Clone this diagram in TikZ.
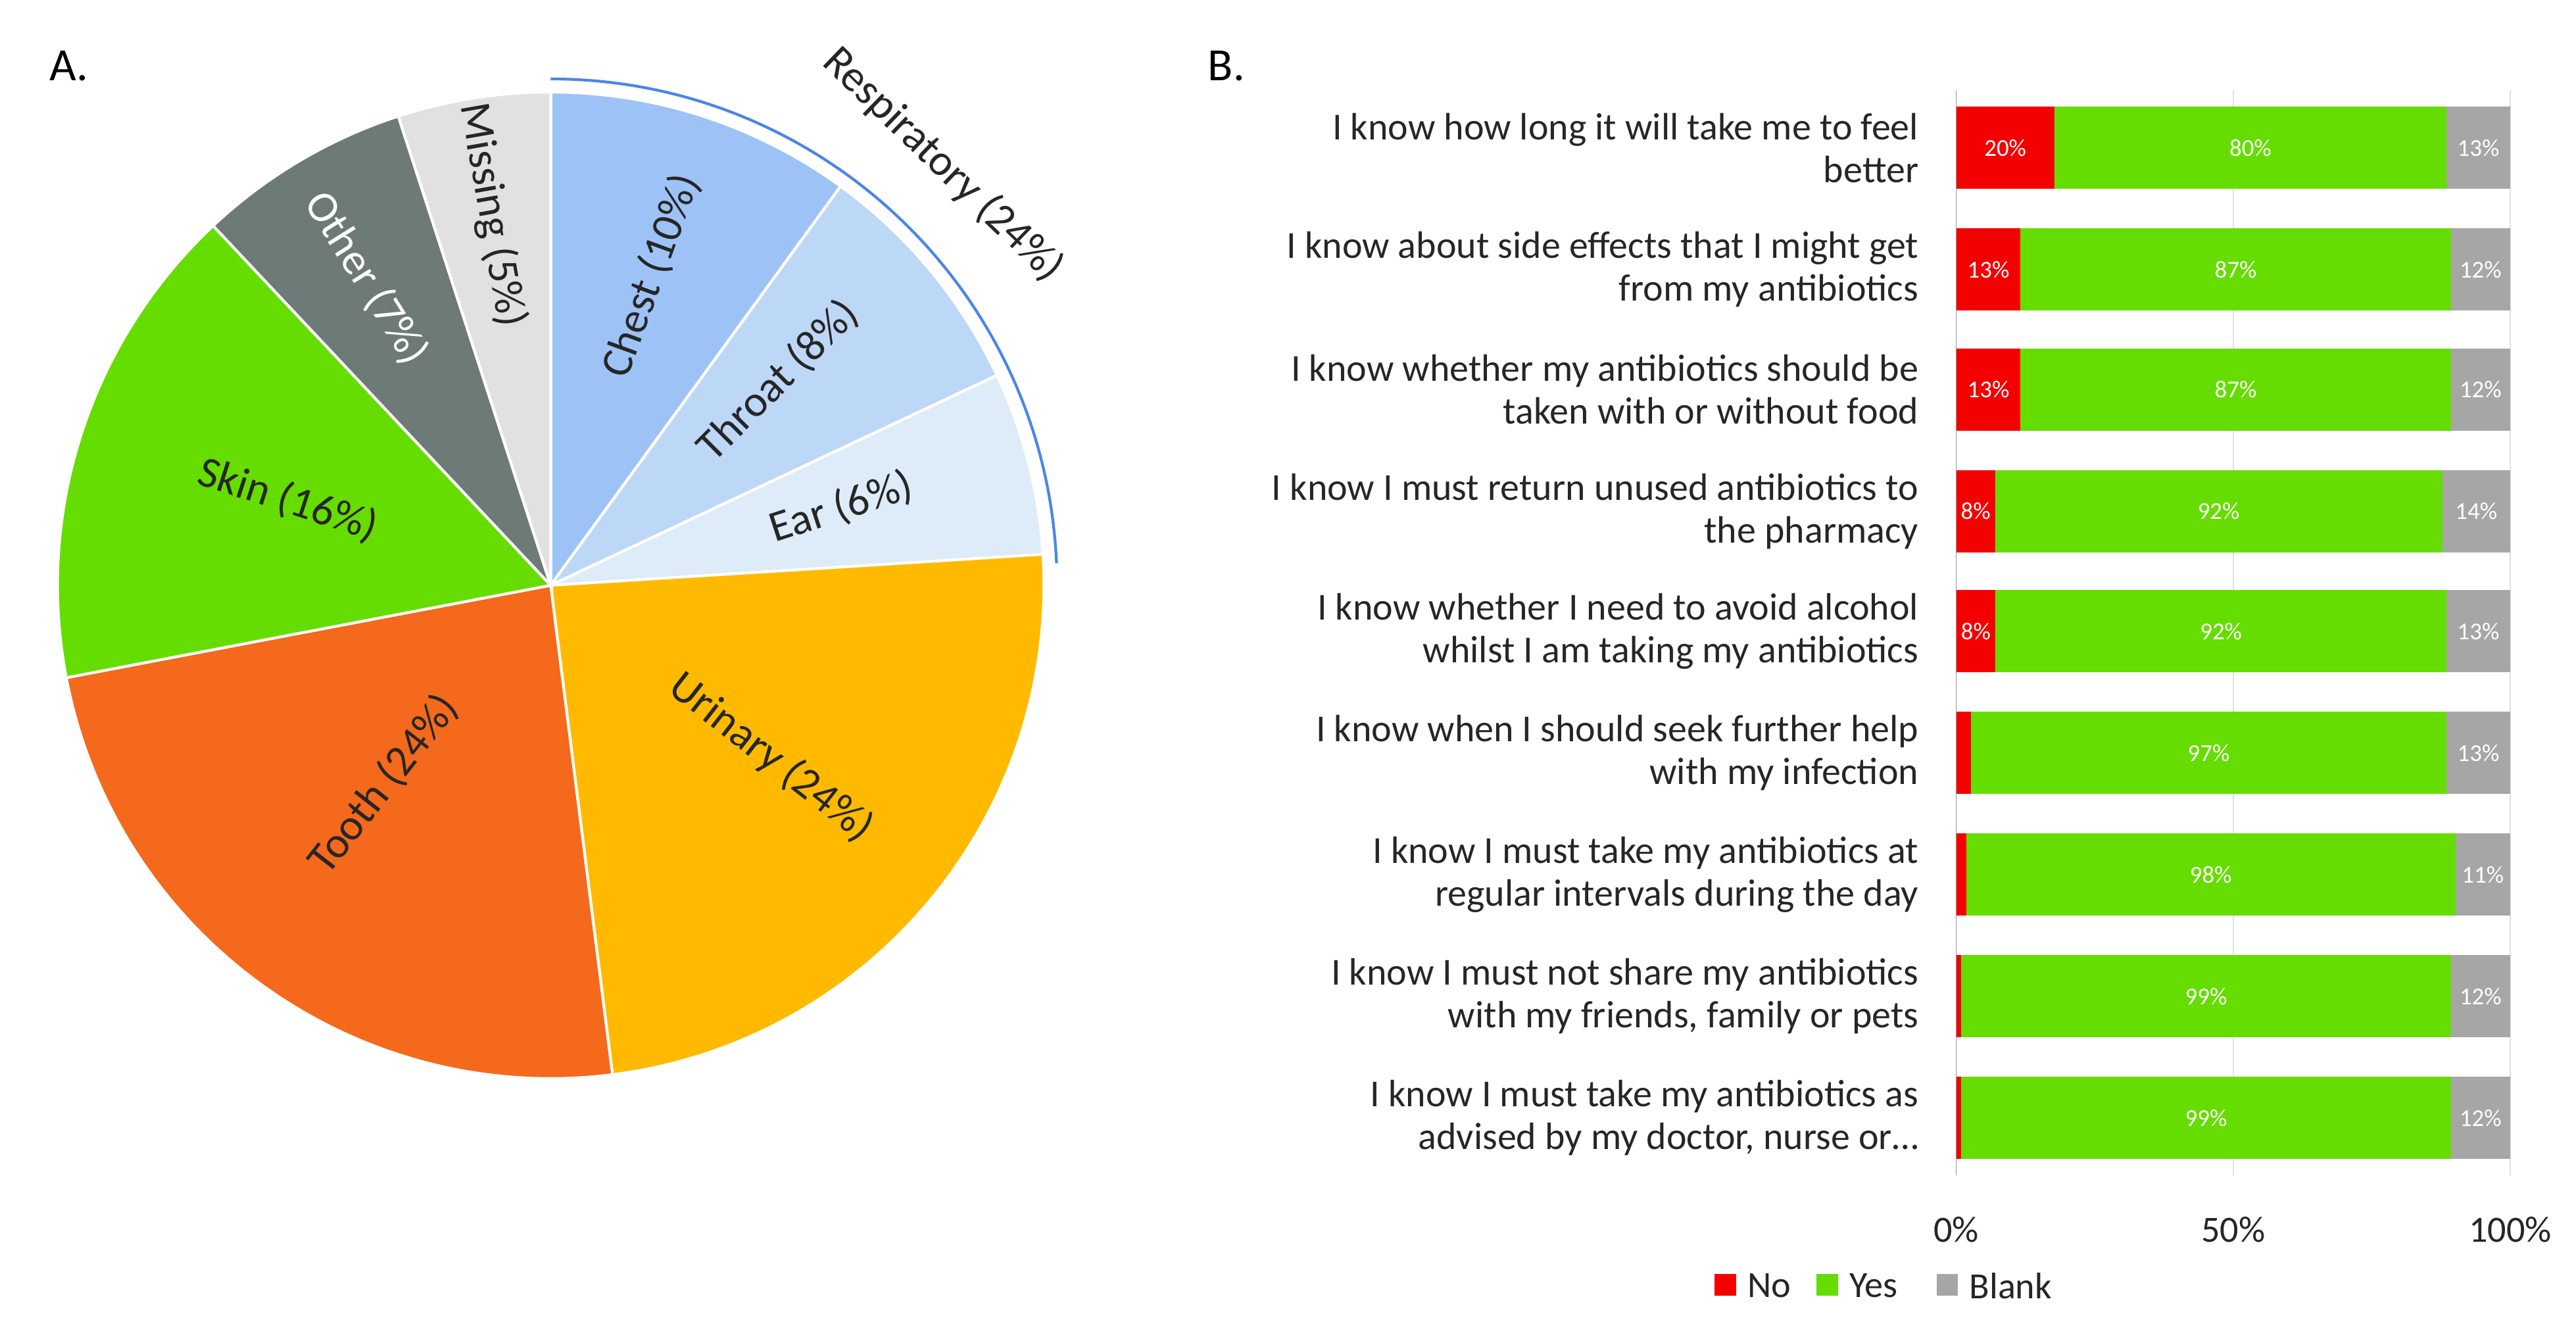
\documentclass[tikz,border=0pt]{standalone}
\usepackage{fontspec}
\setmainfont{Carlito}
\usetikzlibrary{calc}
\definecolor{chestc}{HTML}{9DC3F6}
\definecolor{throatc}{HTML}{BDD7F7}
\definecolor{earc}{HTML}{DEEBF8}
\definecolor{urinc}{HTML}{FFBA00}
\definecolor{toothc}{HTML}{F4691C}
\definecolor{skinc}{HTML}{66DD00}
\definecolor{otherc}{HTML}{6E7A77}
\definecolor{missc}{HTML}{E1E1E1}
\definecolor{noc}{HTML}{F40000}
\definecolor{blankc}{HTML}{A6A6A6}
\definecolor{respc}{HTML}{4A86E8}
\tikzset{
  slice/.style={draw=white, line width=1.2pt},
  plabel/.style={font=\fontsize{19}{19}\selectfont, text=black!85, inner sep=1pt},
  qlabel/.style={anchor=east, align=right, font=\fontsize{16.5}{18.5}\selectfont, text=black!85},
  vlabel/.style={font=\fontsize{10.5}{10.5}\selectfont, text=white},
  axlabel/.style={font=\fontsize{16}{16}\selectfont, text=black!85},
}
\begin{document}
\begin{tikzpicture}[x=0.025cm, y=0.025cm]
  \useasboundingbox (0,0) rectangle (1567,-804);
  % Panel letters
  \node[font=\fontsize{20}{20}\selectfont] (lA) at (42,-40) {A.};
  \node[font=\fontsize{20}{20}\selectfont] (lB) at (746,-40) {B.};
  % Pie
  \coordinate (O) at (335,-356);
  \foreach \a/\b/\c in {90/54/chestc, 54/25.2/throatc, 25.2/3.6/earc, 3.6/-82.8/urinc,
                        -82.8/-169.2/toothc, -169.2/-226.8/skinc, -226.8/-252/otherc, -252/-270/missc}
    \filldraw[slice, fill=\c] (O) -- ++(\a:300) arc[start angle=\a, end angle=\b, radius=300] -- cycle;
  % Pie labels
  \node[plabel, rotate=70] (chest) at ($(O)+(72:198)$) {Chest (10\%)};
  \node[plabel, rotate=45] (throat) at ($(O)+(42:186)$) {Throat (8\%)};
  \node[plabel, rotate=18] (ear) at ($(O)+(15:183)$) {Ear (6\%)};
  \node[plabel, rotate=-38] (urinary) at ($(O)+(-38:170)$) {Urinary (24\%)};
  \node[plabel, rotate=52] (tooth) at ($(O)+(-130:158)$) {Tooth (24\%)};
  \node[plabel, rotate=-18] (skin) at ($(O)+(162:168)$) {Skin (16\%)};
  \node[plabel, text=white, rotate=-58] (other) at ($(O)+(121:218)$) {Other (7\%)};
  \node[plabel, rotate=-80] (missing) at ($(O)+(99:228)$) {Missing (5\%)};
  % Respiratory bracket
  \draw[respc, line width=1.2pt] ($(O)+(90:308)$) arc[start angle=90, end angle=2.5, radius=308];
  \node[plabel, rotate=-44] (resp) at ($(O)+(47:350)$) {Respiratory (24\%)};
  % Bar chart grid
  \draw[black!12] (1358.5,-55) -- (1358.5,-715);
  \draw[black!12] (1527,-55) -- (1527,-715);
  \draw[black!40] (1190,-55) -- (1190,-715);
  \foreach \y/\n/\g/\b/\nl/\gl/\bl in {
      90/20/80/13/20\%/80\%/13\%, 164/13/87/12/13\%/87\%/12\%, 237/13/87/12/13\%/87\%/12\%,
      311/8/92/14/8\%/92\%/14\%, 384/8/92/13/8\%/92\%/13\%, 458/3/97/13//97\%/13\%,
      532/2/98/11//98\%/11\%, 606/1/99/12//99\%/12\%, 680/1/99/12//99\%/12\%}{
    \pgfmathsetmacro{\s}{337/(\n+\g+\b)}
    \pgfmathsetmacro{\xa}{1190+\n*\s}
    \pgfmathsetmacro{\xb}{\xa+\g*\s}
    \fill[noc] (1190,-\y+25) rectangle (\xa,-\y-25);
    \fill[skinc] (\xa,-\y+25) rectangle (\xb,-\y-25);
    \fill[blankc] (\xb,-\y+25) rectangle (1527,-\y-25);
    \node[vlabel] at ({(1190+\xa)/2},-\y) {\nl};
    \node[vlabel] at ({(\xa+\xb)/2},-\y) {\gl};
    \node[vlabel] at ({(\xb+1527)/2},-\y) {\bl};
  }
  % Questions
  \node[qlabel] (q1) at (1172,-90) {I know how long it will take me to feel\\better};
  \node[qlabel] (q2) at (1172,-164) {I know about side effects that I might get\\from my antibiotics};
  \node[qlabel] (q3) at (1172,-237) {I know whether my antibiotics should be\\taken with or without food};
  \node[qlabel] (q4) at (1172,-311) {I know I must return unused antibiotics to\\the pharmacy};
  \node[qlabel] (q5) at (1172,-384) {I know whether I need to avoid alcohol\\whilst I am taking my antibiotics};
  \node[qlabel] (q6) at (1172,-458) {I know when I should seek further help\\with my infection};
  \node[qlabel] (q7) at (1172,-532) {I know I must take my antibiotics at\\regular intervals during the day};
  \node[qlabel] (q8) at (1172,-606) {I know I must not share my antibiotics\\with my friends, family or pets};
  \node[qlabel] (q9) at (1172,-680) {I know I must take my antibiotics as\\advised by my doctor, nurse or\ldots};
  % Axis
  \node[axlabel] (t0) at (1190,-748) {0\%};
  \node[axlabel] (t50) at (1358.5,-748) {50\%};
  \node[axlabel] (t100) at (1527,-748) {100\%};
  % Legend
  \fill[noc] (1043,-775) rectangle (1056,-788);
  \node[axlabel, anchor=west] (lno) at (1058,-782) {No};
  \fill[skinc] (1105,-775) rectangle (1118,-788);
  \node[axlabel, anchor=west] (lyes) at (1120,-782) {Yes};
  \fill[blankc] (1178,-775) rectangle (1191,-788);
  \node[axlabel, anchor=west] (lblank) at (1193,-782) {Blank};
\end{tikzpicture}
\end{document}
